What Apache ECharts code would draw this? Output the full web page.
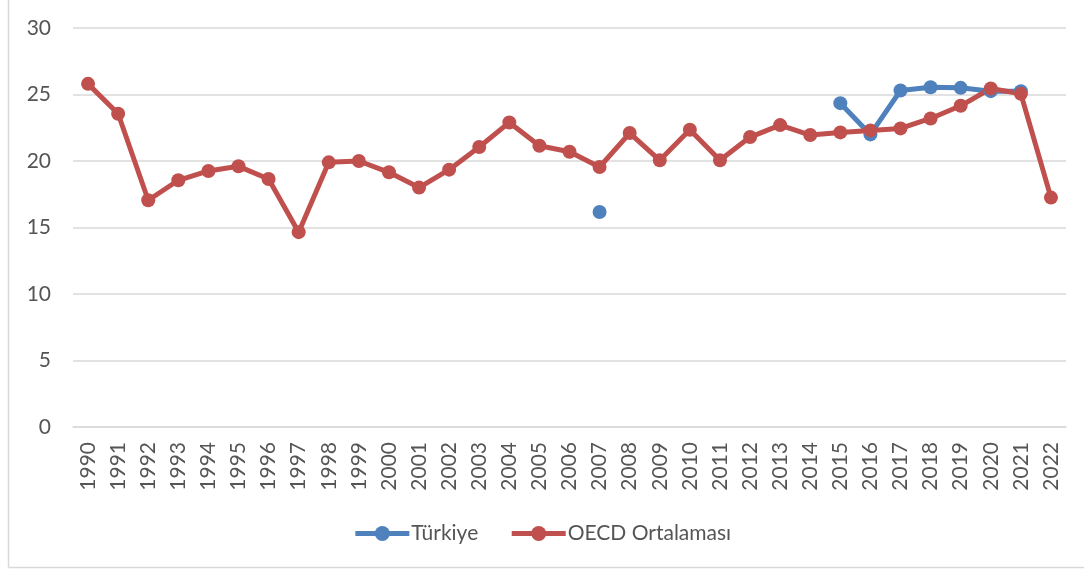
<!DOCTYPE html>
<html>
<head>
<meta charset="utf-8">
<script src="https://cdn.jsdelivr.net/npm/echarts@6/dist/echarts.min.js"></script>
<style>
html,body{margin:0;padding:0;background:#fff;}
#chart{width:1084px;height:569px;}
</style>
</head>
<body>
<div id="chart"></div>
<script>
const years = ['1990','1991','1992','1993','1994','1995','1996','1997','1998','1999','2000','2001','2002','2003','2004','2005','2006','2007','2008','2009','2010','2011','2012','2013','2014','2015','2016','2017','2018','2019','2020','2021','2022'];
const turkiye = [null,null,null,null,null,null,null,null,null,null,null,null,null,null,null,null,null,16.17,null,null,null,null,null,null,null,24.35,22.0,25.3,25.55,25.5,25.25,25.25,null];
const oecd = [25.8,23.55,17.05,18.55,19.25,19.6,18.65,14.65,19.9,20.0,19.15,18.0,19.35,21.05,22.9,21.15,20.7,19.55,22.1,20.05,22.35,20.05,21.8,22.7,21.95,22.15,22.3,22.45,23.2,24.15,25.45,25.05,17.25];
const yTicks = {min:0, max:30, interval:5};

const font = 'Lato, "Open Sans", sans-serif';
const chart = echarts.init(document.getElementById('chart'), null, {renderer:'canvas'});
chart.setOption({
  animation:false,
  backgroundColor:'#fff',
  textStyle:{fontFamily:font},
  graphic:[
    {type:'line', shape:{x1:8.5,y1:0,x2:8.5,y2:567.5}, style:{stroke:'#d9d9d9', lineWidth:1.5}},
    {type:'line', shape:{x1:8.5,y1:567.5,x2:1084,y2:567.5}, style:{stroke:'#d9d9d9', lineWidth:1.5}}
  ],
  grid:{left:73, right:18, top:28, bottom:142},
  legend:{
    bottom:20, left:'center',
    itemWidth:54, itemHeight:19, itemGap:31,
    lineStyle:{width:5},
    textStyle:{fontFamily:font, fontSize:21, color:'#555555', padding:[0,0,0,-3]},
    data:['Türkiye','OECD Ortalaması']
  },
  xAxis:{
    type:'category', data:years, boundaryGap:true,
    axisLine:{lineStyle:{color:'#d9d9d9', width:1.5}},
    axisTick:{show:false},
    axisLabel:{rotate:90, interval:0, margin:15, fontFamily:font, fontSize:21, color:'#555555'}
  },
  yAxis:{
    type:'value', min:yTicks.min, max:yTicks.max, interval:yTicks.interval,
    axisLine:{show:false}, axisTick:{show:false},
    axisLabel:{margin:22, fontFamily:font, fontSize:21, color:'#555555'},
    splitLine:{lineStyle:{color:'#d9d9d9', width:1.5}}
  },
  series:[
    {name:'Türkiye', type:'line', data:turkiye, connectNulls:false,
     symbol:'circle', symbolSize:14, showSymbol:true,
     itemStyle:{color:'#4F81BD'}, lineStyle:{color:'#4F81BD', width:5}},
    {name:'OECD Ortalaması', type:'line', data:oecd,
     symbol:'circle', symbolSize:14, showSymbol:true,
     itemStyle:{color:'#C0504D'}, lineStyle:{color:'#C0504D', width:5}}
  ]
});
</script>
</body>
</html>
